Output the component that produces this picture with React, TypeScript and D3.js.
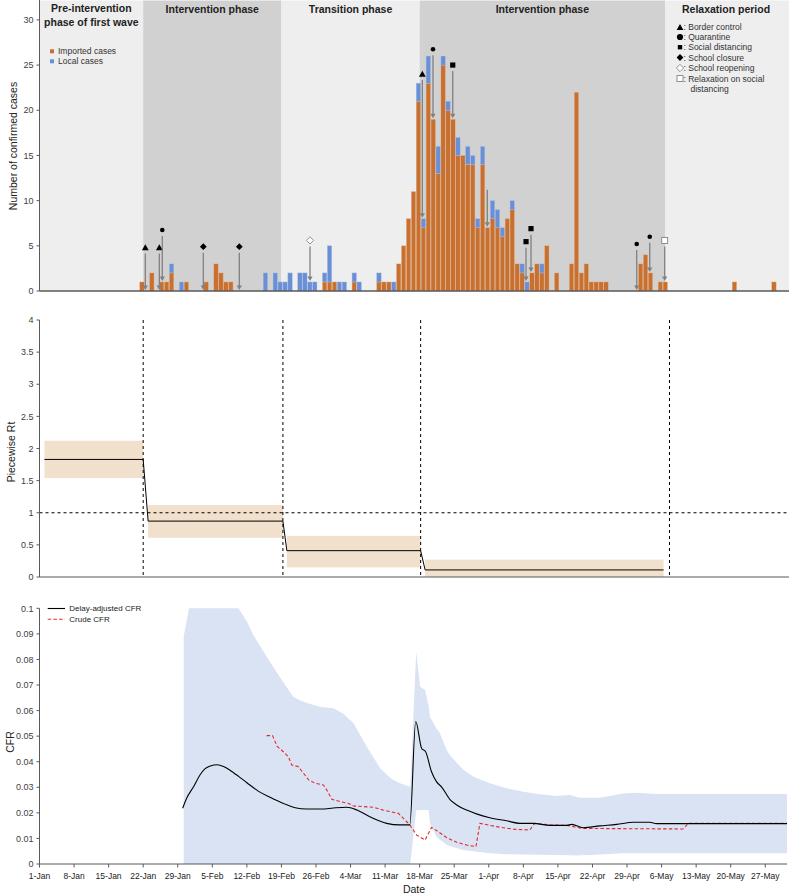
import React from 'react';
import * as d3 from 'd3';

// ---------------- Top panel: daily confirmed cases ----------------
const barDays = [21, 23, 25, 26, 27, 29, 30, 34, 36, 37, 38, 39, 46, 48, 49, 50, 51, 53, 54, 55, 56, 58, 59, 60, 61, 62, 64, 65, 69, 70, 71, 72, 73, 74, 75, 76, 77, 78, 79, 80, 81, 82, 83, 84, 85, 86, 87, 88, 89, 90, 91, 92, 93, 94, 95, 96, 97, 98, 99, 100, 101, 102, 103, 105, 108, 109, 110, 111, 112, 113, 114, 115, 122, 123, 124, 126, 127, 141, 149];
const importedCases = [1, 2, 1, 1, 2, 0, 1, 1, 3, 2, 1, 1, 0, 0, 0, 0, 0, 0, 0, 0, 0, 1, 1, 1, 0, 0, 1, 0, 1, 1, 1, 0, 3, 5, 8, 11, 21, 7, 23, 19, 13, 25, 20, 19, 15, 15, 14, 14, 7, 14, 7, 8, 7, 6, 8, 9, 3, 2, 0, 2, 3, 2, 5, 2, 3, 22, 2, 3, 1, 1, 1, 1, 3, 4, 2, 1, 1, 1, 1];
const localCases = [0, 0, 0, 0, 1, 1, 0, 0, 0, 0, 0, 0, 2, 2, 1, 1, 2, 2, 2, 1, 1, 1, 4, 0, 1, 1, 1, 1, 1, 0, 0, 1, 0, 0, 0, 0, 2, 1, 3, 0, 3, 1, 1, 0, 2, 0, 2, 1, 1, 2, 0, 2, 2, 1, 0, 1, 0, 1, 1, 0, 0, 1, 0, 0, 0, 0, 0, 0, 0, 0, 0, 0, 0, 0, 0, 0, 0, 0, 0];
const caseTicks = [0, 5, 10, 15, 20, 25, 30];

const phaseBounds = [0, 21, 49, 77, 126.7, 151.4];
const phaseTitles = [["Pre-intervention", "phase of first wave"], ["Intervention phase"], ["Transition phase"], ["Intervention phase"], ["Relaxation period"]];
const phaseDark = [false, true, false, true, false];

const markerDays = [21.43, 24.27, 24.87, 33.18, 40.47, 54.79, 77.54, 79.7, 83.7, 90.7, 98.54, 99.55, 120.96, 123.6, 126.63];
const markerTypes = ['tri', 'tri', 'circle', 'diamond', 'diamond', 'odiamond', 'tri', 'circle', 'square', 'none', 'square', 'square', 'circle', 'circle', 'osquare'];
const markerLevels = [4.8, 4.8, 6.75, 4.9, 4.9, 5.6, 24.0, 26.75, 25.0, 11.2, 5.46, 6.9, 5.2, 6.0, 5.6];
const arrowTips = [0, 0, 1, 0, 0, 1, 8, 19, 19, 7, 1, 2, 0, 2, 1];

const caseLegend = ["Imported cases", "Local cases"];
const measureTypes = ['tri', 'bigcircle', 'smallsquare', 'diamond', 'odiamond', 'osquare', 'none'];
const measureLegend = [": Border control", ": Quarantine", ": Social distancing", ": School closure", ": School reopening", ": Relaxation on social", "distancing"];

// ---------------- Middle panel: piecewise Rt ----------------
const rtStart = [1, 22, 50.1, 78.1];
const rtEnd = [21, 49.3, 77.2, 126.4];
const rtMean = [1.83, 0.87, 0.41, 0.11];
const rtLower = [1.54, 0.61, 0.15, 0.0];
const rtUpper = [2.12, 1.12, 0.64, 0.27];
const rtDividers = [21, 49.3, 77.2, 127.6];
const rtTicks = [0, 0.5, 1, 1.5, 2, 2.5, 3, 3.5, 4];

// ---------------- Bottom panel: CFR ----------------
const adjDays = [29.0, 29.8, 31.2, 32.5, 33.5, 34.6, 36.0, 37.3, 39.3, 42.0, 44.3, 46.7, 49.4, 51.8, 54.1, 57.2, 59.5, 62.2, 64.3, 66.9, 70.3, 73.0, 75.0, 76.2, 77.4, 78.2, 79.4, 80.4, 81.5, 83.1, 84.5, 86.5, 88.5, 91.2, 94.6, 97.3, 100.0, 103.4, 106.8, 107.8, 110.1, 113.5, 116.9, 120.3, 123.6, 125.0, 151.4];
const adjCfr = [0.0218, 0.0257, 0.0302, 0.0348, 0.0372, 0.0383, 0.0388, 0.0381, 0.0357, 0.0318, 0.0285, 0.0261, 0.0237, 0.0220, 0.0215, 0.0215, 0.0219, 0.0222, 0.0211, 0.0185, 0.0159, 0.0153, 0.0153, 0.0557, 0.0452, 0.0439, 0.0361, 0.0322, 0.0300, 0.0253, 0.0231, 0.0211, 0.0196, 0.0181, 0.0169, 0.0159, 0.0159, 0.0151, 0.0151, 0.0155, 0.0142, 0.0149, 0.0155, 0.0163, 0.0163, 0.0158, 0.0158];
const crudeDays = [46.0, 47.2, 48.1, 49.4, 50.4, 51.1, 52.4, 53.4, 54.5, 55.8, 57.5, 58.2, 59.2, 60.9, 62.6, 63.6, 67.6, 69.6, 72.7, 75.0, 76.4, 78.1, 79.4, 80.8, 82.5, 84.5, 86.5, 88.4, 89.2, 92.6, 96.0, 99.3, 100.3, 103.4, 106.8, 110.1, 130.4, 131.4, 151.4];
const crudeCfr = [0.0502, 0.0502, 0.0461, 0.0439, 0.0420, 0.0387, 0.0381, 0.0357, 0.0329, 0.0316, 0.0309, 0.0289, 0.0253, 0.0244, 0.0237, 0.0227, 0.0222, 0.0211, 0.0198, 0.0153, 0.0113, 0.0094, 0.0143, 0.0126, 0.0103, 0.0085, 0.0074, 0.0068, 0.0159, 0.0146, 0.0136, 0.0133, 0.0159, 0.0153, 0.0151, 0.0139, 0.0137, 0.0159, 0.0159];
const bandDays = [29.2, 30.0, 30.6, 31.5, 34, 37, 39, 40.3, 42.0, 43.3, 46.0, 48.7, 51.4, 52.8, 54.8, 56.8, 59.5, 61.5, 63.6, 66.3, 69.0, 71.3, 73.0, 75.1, 76.3, 77.1, 78.1, 78.8, 79.1, 80.4, 81.1, 82.5, 83.1, 85.2, 85.8, 87.9, 91.2, 94.6, 98.0, 101.4, 104.7, 107.4, 108.8, 109.5, 111.5, 113.5, 118.2, 120.9, 125.0, 151.4];
const bandUpper = [0.089, 0.097, 0.104, 0.115, 0.125, 0.12, 0.108, 0.1, 0.0948, 0.0896, 0.0811, 0.073, 0.0654, 0.0639, 0.0626, 0.0615, 0.0609, 0.0589, 0.055, 0.0459, 0.0374, 0.0332, 0.0316, 0.0302, 0.083, 0.0693, 0.068, 0.062, 0.0576, 0.053, 0.0511, 0.0445, 0.0426, 0.0381, 0.037, 0.0341, 0.0316, 0.0296, 0.0283, 0.0273, 0.0266, 0.027, 0.0262, 0.0259, 0.0259, 0.0259, 0.0276, 0.0279, 0.0274, 0.0274];
const bandLower = [0, 0, 0, 0, 0, 0, 0, 0, 0, 0, 0, 0, 0, 0, 0, 0, 0, 0, 0, 0, 0, 0, 0, 0, 0.021, 0.0211, 0.0211, 0.0211, 0.0159, 0.0107, 0.0095, 0.0074, 0.007, 0.0058, 0.0055, 0.005, 0.0042, 0.0038, 0.0037, 0.0036, 0.0035, 0.0034, 0.0033, 0.0034, 0.0035, 0.0037, 0.0042, 0.0042, 0.0042, 0.0042];
const cfrTicks = [0, 0.01, 0.02, 0.03, 0.04, 0.05, 0.06, 0.07, 0.08, 0.09, 0.1];
const dateTickDays = [0, 7, 14, 21, 28, 35, 42, 49, 56, 63, 70, 77, 84, 91, 98, 105, 112, 119, 126, 133, 140, 147];
const dateTickLabels = ["1-Jan", "8-Jan", "15-Jan", "22-Jan", "29-Jan", "5-Feb", "12-Feb", "19-Feb", "26-Feb", "4-Mar", "11-Mar", "18-Mar", "25-Mar", "1-Apr", "8-Apr", "15-Apr", "22-Apr", "29-Apr", "6-May", "13-May", "20-May", "27-May"];
const cfrLegend = ["Delay-adjusted CFR", "Crude CFR"];

const W = 789, H = 895;
const FONT = "'Liberation Sans', Arial, Helvetica, sans-serif";
const ORANGE = '#c8702f';
const BLUE = '#6a8fd5';
const LIGHT = '#eeeeee';
const DARK = '#d1d1d1';
const AXIS = '#595959';
const TICKTXT = '#404040';

const x = d3.scaleLinear().domain([0, 151.4]).range([39.5, 787]);
const yCases = d3.scaleLinear().domain([0, 32.2]).range([291, 0]);
const yRt = d3.scaleLinear().domain([0, 4]).range([577, 320]);
const yCfr = d3.scaleLinear().domain([0, 0.1]).range([864, 608.3]);

function Marker({ type, cx, cy }: { type: string; cx: number; cy: number }) {
  switch (type) {
    case 'tri':
      return <path d={`M${cx},${cy - 3.3}L${cx + 3.4},${cy + 2.7}L${cx - 3.4},${cy + 2.7}Z`} fill="#000" />;
    case 'circle':
      return <circle cx={cx} cy={cy} r={2.3} fill="#000" />;
    case 'bigcircle':
      return <circle cx={cx} cy={cy} r={3.1} fill="#000" />;
    case 'square':
      return <rect x={cx - 2.6} y={cy - 2.6} width={5.2} height={5.2} fill="#000" />;
    case 'smallsquare':
      return <rect x={cx - 2.2} y={cy - 2.2} width={4.4} height={4.4} fill="#000" />;
    case 'diamond':
      return <path d={`M${cx},${cy - 3.4}L${cx + 3.4},${cy}L${cx},${cy + 3.4}L${cx - 3.4},${cy}Z`} fill="#000" />;
    case 'odiamond':
      return <path d={`M${cx},${cy - 3.6}L${cx + 3.6},${cy}L${cx},${cy + 3.6}L${cx - 3.6},${cy}Z`} fill="#fff" stroke="#777" strokeWidth={0.8} />;
    case 'osquare':
      return <rect x={cx - 3} y={cy - 3} width={6} height={6} fill="#fff" stroke="#777" strokeWidth={0.8} />;
    default:
      return null;
  }
}

export default function App() {
  const barW = 4.4;
  const barOffset = -0.25;

  const rtPts: [number, number][] = [];
  rtStart.forEach((s, i) => {
    rtPts.push([x(s), yRt(rtMean[i])]);
    rtPts.push([x(rtEnd[i]), yRt(rtMean[i])]);
  });
  const line = d3.line();

  const adjLine = d3.line<number>().x((d, i) => x(adjDays[i])).y(d => yCfr(d)).curve(d3.curveMonotoneX)(adjCfr) || '';
  const crudeLine = d3.line<number>().x((d, i) => x(crudeDays[i])).y(d => yCfr(d))(crudeCfr) || '';
  const bandArea = d3.area<number>().x(d => x(d)).y0((d, i) => yCfr(bandLower[i])).y1((d, i) => yCfr(bandUpper[i]))(bandDays) || '';

  const legendY = [27.3, 37, 47.2, 57.5, 68, 78.6, 89];

  return (
    <svg width={W} height={H} style={{ position: 'absolute', left: 0, top: 0, background: '#fff' }} fontFamily={FONT}>
      <defs>
        <clipPath id="cfrClip">
          <rect x={x(0)} y={yCfr(0.1)} width={x(151.4) - x(0)} height={yCfr(0) - yCfr(0.1)} />
        </clipPath>
      </defs>
      <rect x={0} y={0} width={W} height={H} fill="#fff" />

      {/* ===== Top panel ===== */}
      {phaseTitles.map((t, i) => (
        <rect key={'ph' + i} x={x(phaseBounds[i])} y={0.5} width={x(phaseBounds[i + 1]) - x(phaseBounds[i]) + (i === 4 ? 2 : 0)} height={yCases(0) - 0.5} fill={phaseDark[i] ? DARK : LIGHT} />
      ))}
      {phaseTitles.map((t, i) => {
        const cx = (x(phaseBounds[i]) + x(phaseBounds[i + 1])) / 2;
        return (
          <text key={'pt' + i} x={cx} y={t.length > 1 ? 12 : 13} textAnchor="middle" fontSize={10.5} fontWeight="bold" fill="#222">
            {t.map((s, j) => <tspan key={j} x={cx} dy={j === 0 ? 0 : 13.5}>{s}</tspan>)}
          </text>
        );
      })}

      {barDays.map((d, i) => {
        const bx = x(d + barOffset) - barW / 2;
        const imp = importedCases[i];
        const loc = localCases[i];
        return (
          <g key={'b' + i}>
            {imp > 0 && <rect x={bx} y={yCases(imp)} width={barW} height={yCases(0) - yCases(imp)} fill={ORANGE} stroke="#e7b48f" strokeWidth={0.4} />}
            {loc > 0 && <rect x={bx} y={yCases(imp + loc)} width={barW} height={yCases(imp) - yCases(imp + loc)} fill={BLUE} stroke="#a9bfe8" strokeWidth={0.4} />}
          </g>
        );
      })}

      {markerDays.map((d, i) => {
        const cx = x(d);
        const cy = yCases(markerLevels[i]);
        const y1 = markerTypes[i] === 'none' ? cy : cy + 6;
        const tip = yCases(arrowTips[i]) - 1;
        return (
          <g key={'m' + i}>
            <line x1={cx} x2={cx} y1={y1} y2={tip - 4} stroke="#808080" strokeWidth={1.3} />
            <path d={`M${cx - 2.6},${tip - 4.5}L${cx + 2.6},${tip - 4.5}L${cx},${tip}Z`} fill="#808080" />
            <Marker type={markerTypes[i]} cx={cx} cy={cy} />
          </g>
        );
      })}

      {/* case legend */}
      {caseLegend.map((s, i) => (
        <g key={'cl' + i}>
          <rect x={50} y={49.3 + i * 10} width={4} height={4} fill={i === 0 ? ORANGE : BLUE} />
          <text x={58} y={54.3 + i * 10} fontSize={8.5} fill="#333">{s}</text>
        </g>
      ))}
      {/* measure legend */}
      {measureLegend.map((s, i) => (
        <g key={'ml' + i}>
          <Marker type={measureTypes[i]} cx={680} cy={legendY[i]} />
          <text x={i === 6 ? 690.5 : 683.5} y={legendY[i] + 3} fontSize={8.5} fill="#333">{s}</text>
        </g>
      ))}

      {/* axes */}
      <line x1={x(0)} x2={x(0)} y1={0} y2={yCases(0)} stroke={AXIS} strokeWidth={1} />
      <line x1={x(0)} x2={W} y1={yCases(0)} y2={yCases(0)} stroke={AXIS} strokeWidth={1.3} />
      {caseTicks.map(t => (
        <g key={'ct' + t}>
          <line x1={x(0) - 3} x2={x(0)} y1={yCases(t)} y2={yCases(t)} stroke={AXIS} />
          <text x={x(0) - 6} y={yCases(t) + 3.2} textAnchor="end" fontSize={9} fill={TICKTXT}>{t}</text>
        </g>
      ))}
      <text transform={`translate(16.5,146) rotate(-90)`} textAnchor="middle" fontSize={10.5} fill="#222">Number of confirmed cases</text>

      {/* ===== Middle panel ===== */}
      {rtStart.map((s, i) => (
        <rect key={'rb' + i} x={x(s)} y={yRt(rtUpper[i])} width={x(rtEnd[i]) - x(s)} height={yRt(rtLower[i]) - yRt(rtUpper[i])} fill="#f1e0cc" />
      ))}
      <line x1={x(0)} x2={W} y1={yRt(1)} y2={yRt(1)} stroke="#000" strokeWidth={1} strokeDasharray="3,3" />
      {rtDividers.map((d, i) => (
        <line key={'rd' + i} x1={x(d)} x2={x(d)} y1={yRt(4)} y2={yRt(0)} stroke="#000" strokeWidth={1} strokeDasharray="3,3" />
      ))}
      <path d={line(rtPts) || ''} fill="none" stroke="#000" strokeWidth={1} />
      <line x1={x(0)} x2={x(0)} y1={yRt(4)} y2={yRt(0)} stroke={AXIS} strokeWidth={1} />
      <line x1={x(0)} x2={W} y1={yRt(0)} y2={yRt(0)} stroke={AXIS} strokeWidth={1} />
      {rtTicks.map(t => (
        <g key={'rt' + t}>
          <line x1={x(0) - 3} x2={x(0)} y1={yRt(t)} y2={yRt(t)} stroke={AXIS} />
          <text x={x(0) - 6} y={yRt(t) + 3.2} textAnchor="end" fontSize={9} fill={TICKTXT}>{t}</text>
        </g>
      ))}
      <text transform={`translate(15,452) rotate(-90)`} textAnchor="middle" fontSize={10.5} fill="#222">Piecewise Rt</text>

      {/* ===== Bottom panel ===== */}
      <path d={bandArea} fill="#dae3f3" clipPath="url(#cfrClip)" />
      <path d={crudeLine} fill="none" stroke="#e02b2b" strokeWidth={1.1} strokeDasharray="3.5,2.2" />
      <path d={adjLine} fill="none" stroke="#000" strokeWidth={1.1} />
      <line x1={x(0)} x2={x(0)} y1={yCfr(0.1)} y2={yCfr(0)} stroke={AXIS} strokeWidth={1} />
      <line x1={x(0)} x2={x(151.4)} y1={yCfr(0)} y2={yCfr(0)} stroke={AXIS} strokeWidth={1} />
      {cfrTicks.map(t => (
        <g key={'ft' + t}>
          <line x1={x(0) - 3} x2={x(0)} y1={yCfr(t)} y2={yCfr(t)} stroke={AXIS} />
          <text x={x(0) - 6} y={yCfr(t) + 3.2} textAnchor="end" fontSize={9} fill={TICKTXT}>{t}</text>
        </g>
      ))}
      {dateTickDays.map((d, i) => (
        <g key={'dt' + d}>
          <line x1={x(d)} x2={x(d)} y1={yCfr(0)} y2={yCfr(0) + 3.5} stroke={AXIS} />
          <text x={x(d)} y={yCfr(0) + 14.5} textAnchor="middle" fontSize={8.5} fill="#222">{dateTickLabels[i]}</text>
        </g>
      ))}
      <text x={414} y={893} textAnchor="middle" fontSize={10.5} fill="#222">Date</text>
      <text transform={`translate(14,742) rotate(-90)`} textAnchor="middle" fontSize={10.5} fill="#222">CFR</text>

      {/* CFR legend */}
      <line x1={47.7} x2={65} y1={608.5} y2={608.5} stroke="#000" strokeWidth={1.1} />
      <text x={69.3} y={611.3} fontSize={8} fill="#222">{cfrLegend[0]}</text>
      <line x1={47.7} x2={65} y1={619.3} y2={619.3} stroke="#e02b2b" strokeWidth={1.1} strokeDasharray="3.5,2.2" />
      <text x={69.3} y={622.1} fontSize={8} fill="#222">{cfrLegend[1]}</text>
    </svg>
  );
}
